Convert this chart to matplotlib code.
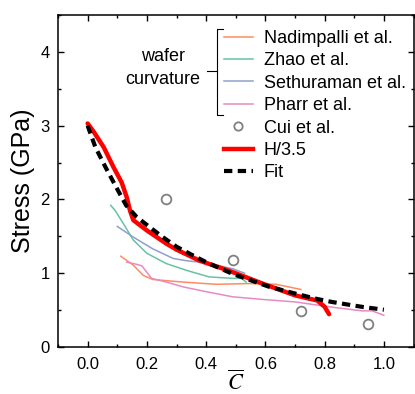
import matplotlib.pyplot as plt
from matplotlib.ticker import MultipleLocator
from matplotlib.lines import Line2D

plt.rcParams['font.family'] = ['Liberation Sans', 'DejaVu Sans']
plt.rcParams['mathtext.fontset'] = 'stix'

# wafer curvature data
nad_x = [0.112, 0.154, 0.188, 0.22, 0.322, 0.434, 0.546, 0.636, 0.72]
nad_y = [1.23, 1.11, 0.97, 0.915, 0.88, 0.85, 0.86, 0.85, 0.78]
zhao_x = [0.078, 0.093, 0.121, 0.154, 0.2, 0.266, 0.333, 0.41, 0.49, 0.52, 0.535]
zhao_y = [1.92, 1.85, 1.67, 1.45, 1.27, 1.13, 1.04, 0.95, 0.93, 0.93, 0.88]
seth_x = [0.10, 0.154, 0.22, 0.289, 0.333, 0.40, 0.49, 0.53]
seth_y = [1.635, 1.49, 1.33, 1.20, 1.17, 1.14, 1.06, 1.0]
pharr_x = [0.132, 0.166, 0.183, 0.216, 0.266, 0.322, 0.40, 0.49, 0.59, 0.703, 0.815, 0.926, 0.96, 1.0]
pharr_y = [1.15, 1.12, 1.10, 0.93, 0.88, 0.815, 0.75, 0.68, 0.645, 0.61, 0.545, 0.49, 0.49, 0.43]

cui_x = [0.266, 0.49, 0.72, 0.946]
cui_y = [2.01, 1.18, 0.49, 0.31]

h_x = [0.0, 0.02, 0.054, 0.087, 0.115, 0.132, 0.143, 0.154, 0.2, 0.266, 0.3, 0.378, 0.4, 0.48, 0.59, 0.7, 0.775, 0.8, 0.815]
h_y = [3.03, 2.92, 2.71, 2.44, 2.23, 2.03, 1.85, 1.72, 1.58, 1.40, 1.32, 1.17, 1.14, 1.03, 0.86, 0.70, 0.63, 0.545, 0.445]

fit_x = [0.0, 0.026, 0.06, 0.1, 0.13, 0.166, 0.208, 0.25, 0.3, 0.356, 0.4, 0.49, 0.61, 0.7, 0.77, 0.825, 0.925, 1.0]
fit_y = [3.0, 2.71, 2.44, 2.14, 1.92, 1.76, 1.63, 1.50, 1.36, 1.24, 1.15, 0.99, 0.82, 0.725, 0.655, 0.61, 0.545, 0.505]

fig = plt.figure(figsize=(4.15, 3.94), dpi=100)
ax = fig.add_axes([58/415, 1-347/394, 355.5/415, 332/394])

ax.plot(nad_x, nad_y, color='#FC8D62', lw=1.1)
ax.plot(zhao_x, zhao_y, color='#66C2A5', lw=1.1)
ax.plot(seth_x, seth_y, color='#8DA0CB', lw=1.1)
ax.plot(pharr_x, pharr_y, color='#E78AC3', lw=1.1)
ax.plot(cui_x, cui_y, 'o', mfc='none', mec='#808080', mew=1.3, ms=7)
ax.plot(h_x, h_y, color='red', lw=3.2, solid_capstyle='round')
ax.plot(fit_x, fit_y, '--', color='black', lw=3, dashes=(2, 1.3))

ax.set_xlim(-0.1, 1.1)
ax.set_ylim(0, 4.5)
ax.xaxis.set_major_locator(MultipleLocator(0.2))
ax.xaxis.set_minor_locator(MultipleLocator(0.1))
ax.yaxis.set_major_locator(MultipleLocator(1))
ax.yaxis.set_minor_locator(MultipleLocator(0.5))
ax.tick_params(which='both', direction='in', top=True, right=True, labelsize=12, width=1)
ax.tick_params(which='major', length=4)
ax.tick_params(which='minor', length=2.5)
ax.tick_params(axis='x', pad=7)
ax.tick_params(axis='y', pad=6)
for s in ax.spines.values():
    s.set_linewidth(1.1)

ax.set_ylabel('Stress (GPa)', fontsize=18, labelpad=4)
ax.set_xlabel(r'$\overline{C}$', fontsize=16, labelpad=-1)

handles = [
    Line2D([], [], color='#FC8D62', lw=1.1),
    Line2D([], [], color='#66C2A5', lw=1.1),
    Line2D([], [], color='#8DA0CB', lw=1.1),
    Line2D([], [], color='#E78AC3', lw=1.1),
    Line2D([], [], ls='none', marker='o', mfc='none', mec='#808080', mew=1.3, ms=6),
    Line2D([], [], color='red', lw=3.2),
    Line2D([], [], color='black', lw=3, ls='--', dashes=(2, 1.3)),
]
labels = ['Nadimpalli et al.', 'Zhao et al.', 'Sethuraman et al.', 'Pharr et al.',
          'Cui et al.', 'H/3.5', 'Fit']
ax.legend(handles, labels, loc='upper left', bbox_to_anchor=(0.467, 0.955),
          frameon=False, fontsize=13, handlelength=1.6, handletextpad=0.6,
          labelspacing=0.3, borderpad=0, borderaxespad=0)

# bracket for wafer curvature group
tr = ax.transAxes
ax.plot([0.463, 0.4486, 0.4486, 0.463], [0.957, 0.957, 0.699, 0.699], color='black', lw=0.8, transform=tr, clip_on=False)
ax.plot([0.418, 0.4486], [0.831, 0.831], color='black', lw=0.8, transform=tr)
ax.text(0.295, 0.8765, 'wafer', transform=tr, ha='center', va='center', fontsize=13)
ax.text(0.295, 0.807, 'curvature', transform=tr, ha='center', va='center', fontsize=13)

fig.savefig('out.png', dpi=100)
